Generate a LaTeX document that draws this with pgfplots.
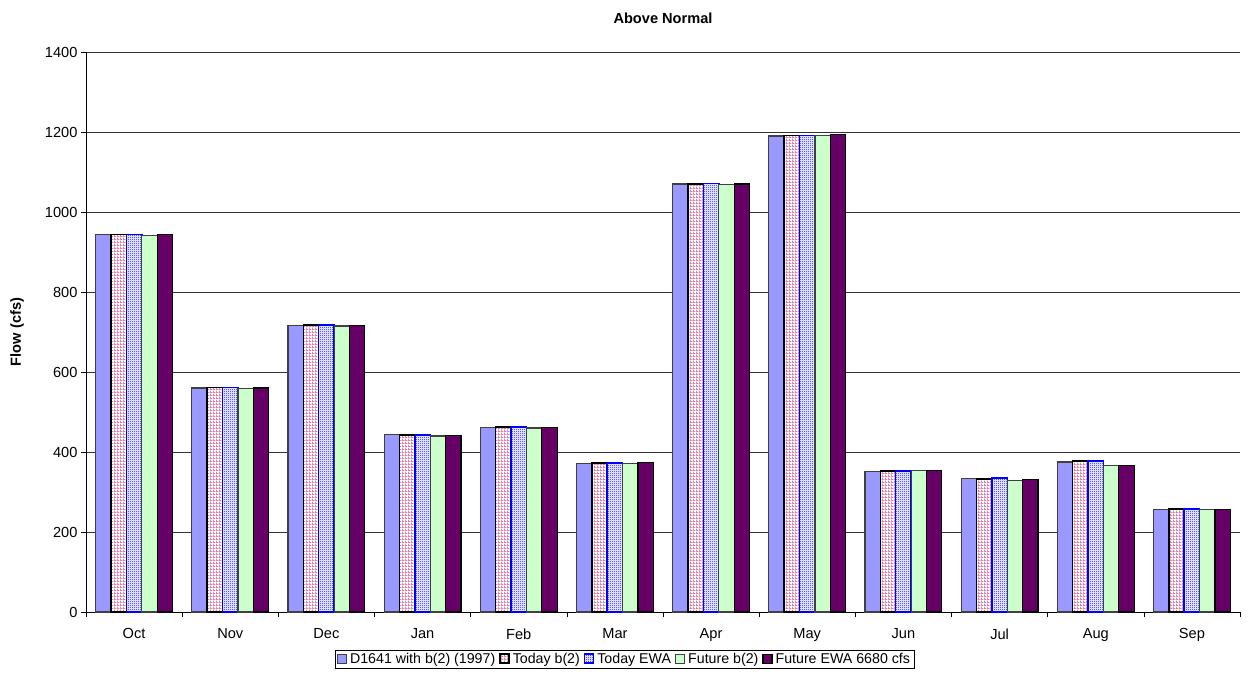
\documentclass[border=0pt]{standalone}
\usepackage{pgfplots}
\pgfplotsset{compat=1.18}
\usepackage{fontspec}
\setmainfont{Liberation Sans}
\usetikzlibrary{patterns}
\pgfdeclarepatternformonly{checker}{\pgfpointorigin}{\pgfpoint{2bp}{2bp}}{\pgfpoint{2bp}{2bp}}{%
  \pgfpathrectangle{\pgfpointorigin}{\pgfpoint{1bp}{1bp}}%
  \pgfpathrectangle{\pgfpoint{1bp}{1bp}}{\pgfpoint{1bp}{1bp}}%
  \pgfusepath{fill}}
\pgfdeclarepatternformonly{pinkgrid}{\pgfpointorigin}{\pgfpoint{3bp}{3bp}}{\pgfpoint{3bp}{3bp}}{%
  \pgfpathrectangle{\pgfpointorigin}{\pgfpoint{3bp}{1bp}}%
  \pgfpathrectangle{\pgfpointorigin}{\pgfpoint{1bp}{3bp}}%
  \pgfusepath{fill}}
\definecolor{cA}{RGB}{153,153,255}
\definecolor{cB}{RGB}{214,130,170}
\definecolor{cC}{RGB}{0,0,255}
\definecolor{cD}{RGB}{204,255,204}
\definecolor{cE}{RGB}{102,0,102}
\pgfplotstableread{
x A B C D E
0 943 944 944 942 943
1 560 561 561 558 560
2 717 717 717 715 716
3 443 443 443 440 442
4 462 462 462 460 462
5 372 372 372 372 374
6 1070 1070 1071 1068 1070
7 1190 1191 1191 1192 1193
8 352 352 352 354 354
9 333 333 335 328 332
10 375 378 378 366 367
11 257 257 257 256 257
}\data
\begin{document}
\begin{tikzpicture}
\useasboundingbox (-86bp,-78bp) rectangle (1162bp,612bp);
\begin{axis}[
  at={(0,0)}, anchor=south west,
  scale only axis, width=1154bp, height=560bp,
  font=\fontsize{14.6bp}{17bp}\selectfont,
  ybar=0pt, bar width=0.16,
  xmin=-0.5, xmax=11.5, ymin=0, ymax=1400,
  ytick={0,200,...,1400},
  xtick={0,...,11},
  xticklabels={Oct,Nov,Dec,Jan,Feb,Mar,Apr,May,Jun,Jul,Aug,Sep},
  minor xtick={-0.5,0.5,...,11.5},
  major x tick style={draw=none},
  tick align=outside,
  major tick length=5bp, minor tick length=5bp,
  tick style={black, thin},
  axis x line*=bottom, axis y line*=left,
  axis line style={black, thin, -},
  ymajorgrids, grid style={black!80, thin},
  xticklabel style={yshift=-8bp},
  /pgf/number format/assume math mode=true,
  /pgf/number format/1000 sep={},
  title={\bfseries Above Normal},
  title style={at={(axis description cs:0.5,1)}, anchor=center, yshift=28bp},
  ylabel={\bfseries Flow (cfs)},
  ylabel style={at={(axis description cs:-0.0598,0.5)}, anchor=center},
  legend columns=5,
  legend style={at={(axis description cs:0.4666,-0.068)}, anchor=north,
    draw=black, thin, font=\fontsize{14.2bp}{17bp}\selectfont,
    inner xsep=2bp, inner ysep=1bp,
    /tikz/every odd column/.append style={column sep=1bp},
    /tikz/every even column/.append style={column sep=2bp}},
  legend image code/.code={\draw[#1] (0bp,-4bp) rectangle (9bp,5bp);},
]
\addplot[draw=black!75, line width=1.2pt, fill=cA] table[x=x,y=A]{\data};
\addlegendentry{D1641 with b(2) (1997)}
\addplot[draw=black, line width=1.5pt, fill=white, postaction={pattern=pinkgrid, pattern color=cB}] table[x=x,y=B]{\data};
\addlegendentry{Today b(2)}
\addplot[draw=cC, line width=1.5pt, fill=white, postaction={pattern=checker, pattern color=cC}] table[x=x,y=C]{\data};
\addlegendentry{Today EWA}
\addplot[draw=black!75, line width=1.2pt, fill=cD] table[x=x,y=D]{\data};
\addlegendentry{Future b(2)}
\addplot[draw=black, line width=1.2pt, fill=cE] table[x=x,y=E]{\data};
\addlegendentry{Future EWA 6680 cfs}
\end{axis}
\end{tikzpicture}
\end{document}
